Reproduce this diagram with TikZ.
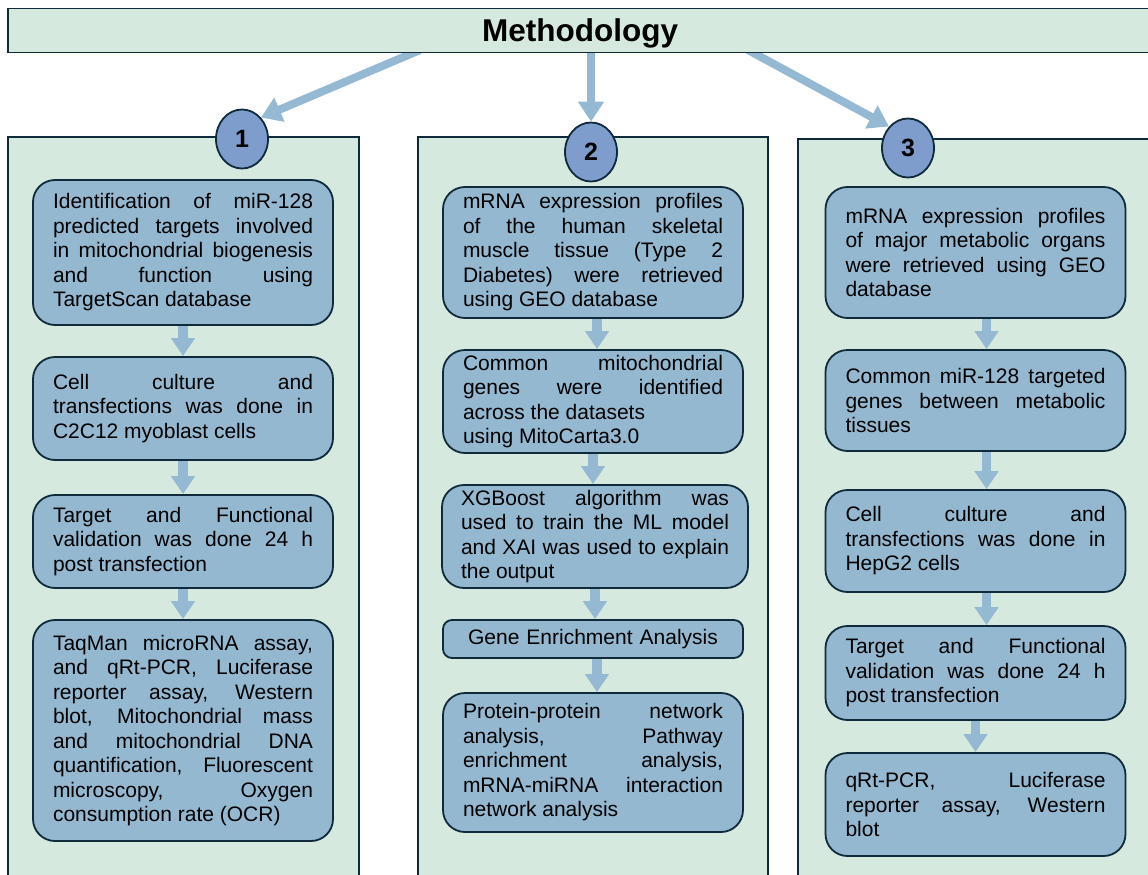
\documentclass[tikz,border=0pt]{standalone}
\usepackage{fontspec}
\setmainfont{Liberation Sans}
\usetikzlibrary{arrows.meta,shapes.geometric}
\tolerance=10000
\hbadness=10000
\hyphenpenalty=10000
\exhyphenpenalty=10000

\begin{document}
\begin{tikzpicture}[x=1pt,y=-1pt,
  outline/.style={draw=EdgeDark, line width=1.8pt},
  stepbox/.style={outline, fill=BoxBlue, rounded corners=22pt, text width=260pt,
    inner xsep=20pt, inner ysep=0pt, align=justify,
    font=\fontsize{21}{24.5}\selectfont},
  numcirc/.style={outline, ellipse, fill=CircBlue, minimum width=52pt,
    minimum height=59pt, inner sep=0pt, font=\fontsize{25}{25}\selectfont\bfseries},
  flow/.style={draw=ArrowBlue, line width=9.5pt, -{Triangle[width=23pt,length=18pt]}},
  branch/.style={draw=ArrowBlue, line width=8pt, -{Triangle[width=25pt,length=20pt]}}]
\definecolor{EdgeDark}{HTML}{0F2A3B}
\definecolor{PanelGreen}{HTML}{D6E9DF}
\definecolor{BoxBlue}{HTML}{94B8D0}
\definecolor{CircBlue}{HTML}{7F9DCC}
\definecolor{ArrowBlue}{HTML}{95B9D2}

\useasboundingbox (0,0) rectangle (1148,875);
\clip (0,0) rectangle (1148,875);

% panels
\draw[outline, fill=PanelGreen] (8,137) rectangle (359,890);
\draw[outline, fill=PanelGreen] (418,137) rectangle (768,890);
\draw[outline, fill=PanelGreen] (798,139) rectangle (1160,890);

% numbers
\node[numcirc] (c1) at (242,139) {1};
\node[numcirc] (c2) at (591,152) {2};
\node[numcirc] (c3) at (908,148) {3};

% branches from the title
\coordinate (m1) at (420,50);
\coordinate (m2) at (591,48);
\coordinate (m3) at (748,50);
\draw[branch] (m1) -- (c1.north east);
\draw[branch] (m2) -- (c2.north);
\draw[branch] (m3) -- (c3.north west);

% title
\node[outline, fill=PanelGreen, minimum width=1144pt, minimum height=44pt, inner sep=0pt,
  text depth=0pt, font=\fontsize{31.5}{31.5}\selectfont\bfseries] (title) at (580,30.5) {Methodology};

% panel 1
\node[stepbox, minimum height=145pt] (a1) at (183,252.5) {Identification of miR-128 \linebreak predicted targets involved \linebreak in mitochondrial biogenesis \linebreak and function using \linebreak TargetScan database};
\node[stepbox, minimum height=103pt] (a2) at (183,408.5) {Cell culture and \linebreak transfections was done in \linebreak C2C12 myoblast cells};
\node[stepbox, minimum height=93pt] (a3) at (183,541.5) {Target and Functional \linebreak validation was done 24 h \linebreak post transfection};
\node[stepbox, minimum height=221pt] (a4) at (183,730.5) {TaqMan microRNA assay, \linebreak and qRt-PCR, Luciferase \linebreak reporter assay, Western \linebreak blot, Mitochondrial mass \linebreak and mitochondrial DNA \linebreak quantification, Fluorescent \linebreak microscopy, Oxygen \linebreak consumption rate (OCR)};
\draw[flow] (a1) -- (a2);
\draw[flow] (a2) -- (a3);
\draw[flow] (a3) -- (a4);

% panel 2
\node[stepbox, minimum height=131pt] (b1) at (593,252.5) {mRNA expression profiles \linebreak of the human skeletal \linebreak muscle tissue (Type 2 \linebreak Diabetes) were retrieved \linebreak using GEO database};
\node[stepbox, minimum height=103pt] (b2) at (593,401.5) {Common mitochondrial \linebreak genes were identified \linebreak across the datasets\\ using MitoCarta3.0};
\node[stepbox, minimum height=103pt, text width=268pt, inner xsep=19pt] (b3) at (595,536.5) {XGBoost algorithm was \linebreak used to train the ML model \linebreak and XAI was used to explain \linebreak the output};
\node[stepbox, minimum height=38pt, rounded corners=9pt, align=center] (b4) at (593,639) {Gene Enrichment Analysis};
\node[stepbox, minimum height=139pt] (b5) at (593,762.5) {Protein-protein network \linebreak analysis, Pathway \linebreak enrichment analysis, \linebreak mRNA-miRNA interaction \linebreak network analysis};
\draw[flow] ([xshift=4pt]b1.south) -- ([xshift=4pt]b2.north);
\draw[flow] (b2) -- (b3.north -| b2);
\draw[flow] ([xshift=2pt]b3.south -| b4) -- ([xshift=2pt]b4.north);
\draw[flow] ([xshift=4pt]b4.south) -- ([xshift=4pt]b5.north);

% panel 3
\node[stepbox, minimum height=131pt] (d1) at (975.5,252.5) {mRNA expression profiles \linebreak of major metabolic organs \linebreak were retrieved using GEO \linebreak database};
\node[stepbox, minimum height=101pt] (d2) at (975.5,400.5) {Common miR-128 targeted \linebreak genes between metabolic \linebreak tissues};
\node[stepbox, minimum height=102pt] (d3) at (975.5,541) {Cell culture and \linebreak transfections was done in \linebreak HepG2 cells};
\node[stepbox, minimum height=94pt] (d4) at (975.5,673) {Target and Functional \linebreak validation was done 24 h \linebreak post transfection};
\node[stepbox, minimum height=103pt] (d5) at (975.5,804.5) {qRt-PCR, Luciferase \linebreak reporter assay, Western \linebreak blot};
\draw[flow] ([xshift=11pt]d1.south) -- ([xshift=11pt]d2.north);
\draw[flow] ([xshift=11pt]d2.south) -- ([xshift=11pt]d3.north);
\draw[flow] ([xshift=11pt]d3.south) -- ([xshift=11pt]d4.north);
\draw[flow] (d4) -- (d5);
\end{tikzpicture}
\end{document}
